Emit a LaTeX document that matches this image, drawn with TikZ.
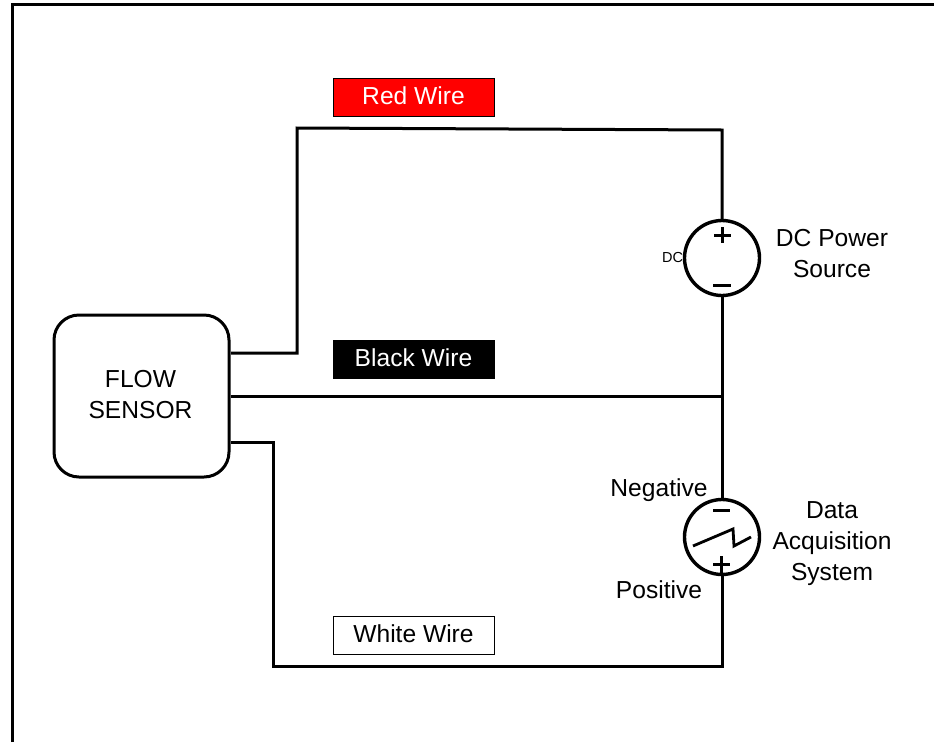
\documentclass[tikz,border=0pt]{standalone}
\usepackage{fontspec}
\setmainfont{Liberation Sans}
\tikzset{
  x=1pt,y=-1pt,
  wire/.style={line width=3pt,line cap=butt,line join=miter,black},
  lbl/.style={font=\fontsize{24.6}{31}\selectfont,align=center,inner sep=0pt,text=black},
  tag/.style={draw=black,line width=1pt,minimum width=161pt,minimum height=38pt,inner sep=0pt},
  taglabel/.style={inner sep=0pt,font=\fontsize{24.6}{30}\selectfont},
  src/.style={circle,draw=black,line width=3.4pt,fill=white,minimum size=75pt,inner sep=0pt},
  sign/.style={line width=3pt,black}
}
\begin{document}
\begin{tikzpicture}
\useasboundingbox (0,0) rectangle (934,742);
\fill[white] (0,0) rectangle (934,742);
% frame
\coordinate (frameBL) at (12,742);
\coordinate (frameTL) at (12,4);
\coordinate (frameTR) at (934,4);
\draw[line width=3pt] (frameBL) -- (frameTL) -- (frameTR);
% nodes
\node[draw=black,line width=3pt,rounded corners=25pt,minimum width=175pt,minimum height=162pt] (sensor) at (141.5,396) {};
\node[lbl] (sensorname) at (140.5,395) {FLOW\\SENSOR};
\node[src] (dc) at (722,258) {};
\node[src] (daq) at (722,537) {};
% wire coordinates
\coordinate (redS) at (231,353);
\coordinate (redA) at (297,353);
\coordinate (redB) at (297,128);
\coordinate (redC) at (722,130);
\coordinate (blkJ) at (722,396);
\coordinate (whtS) at (231,442);
\coordinate (whtA) at (273,442);
\coordinate (whtB) at (273,666);
\coordinate (whtC) at (722,666);
% wires
\draw[wire] (redS) -- (redA) -- (redB) -- (redC) -- (dc.north);
\draw[wire] (sensor.east) -- (blkJ);
\draw[wire] (dc.south) -- (blkJ) -- (daq.north);
\draw[wire] (whtS) -- (whtA) -- (whtB) -- (whtC) -- (daq.south);
% tags
\node[tag,fill=red] (redtag) at (413.5,97) {};
\node[taglabel,text=white] (redtext) at (413.5,96) {Red Wire};
\node[tag,fill=black] (blacktag) at (413.5,359) {};
\node[taglabel,text=white] (blacktext) at (413.5,358) {Black Wire};
\node[tag,fill=white] (whitetag) at (413.5,635) {};
\node[taglabel,text=black] (whitetext) at (413.5,634) {White Wire};
% DC source signs
\draw[sign] (714,235) -- (731,235) (722.5,227) -- (722.5,243);
\draw[sign] (713,285) -- (731,285);
\node[inner sep=0pt,font=\fontsize{14.5}{16}\selectfont] (dclabel) at (672.5,257.5) {DC};
\node[lbl] (dcname) at (832,254) {DC Power\\Source};
% DAQ signs
\draw[sign] (713,510) -- (730,510);
\draw[sign] (713,564) -- (730,564) (721.5,556) -- (721.5,573);
\draw[line width=2.8pt,line join=miter,black] (693,546) -- (733,529) -- (734,546) -- (751,537);
\node[lbl] (neg) at (659,490.5) {Negative};
\node[lbl] (pos) at (659,590) {Positive};
\node[lbl] (daqname) at (832,543.5) {Data\\Acquisition\\System};
\end{tikzpicture}
\end{document}
